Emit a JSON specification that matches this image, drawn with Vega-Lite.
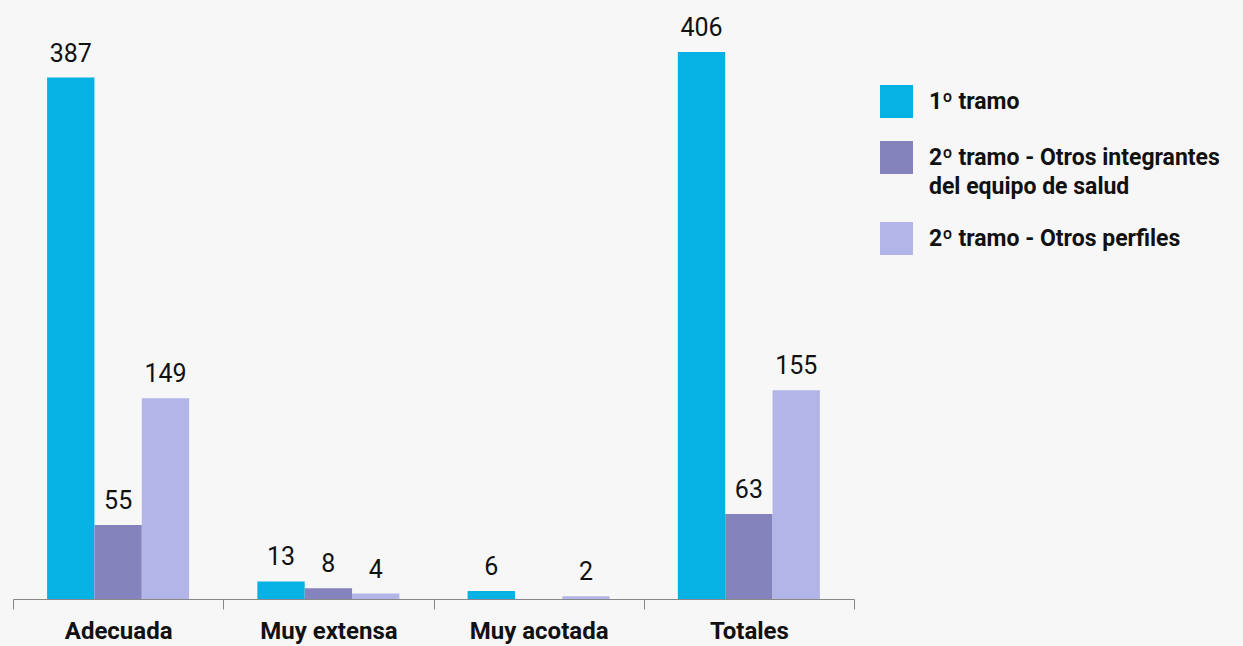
{
  "$schema": "https://vega.github.io/schema/vega-lite/v6.json",
  "autosize": {"type": "none"},
  "width": 841,
  "height": 579,
  "padding": {"left": 13, "top": 20, "right": 389, "bottom": 47},
  "background": "#f7f7f7",
  "config": {"view": {"stroke": null}, "font": "Roboto"},
  "data": {"values": [
    {"cat": "Adecuada", "serie": "1º tramo", "v": 387},
    {"cat": "Adecuada", "serie": "2º tramo - Otros integrantes del equipo de salud", "v": 55},
    {"cat": "Adecuada", "serie": "2º tramo - Otros perfiles", "v": 149},
    {"cat": "Muy extensa", "serie": "1º tramo", "v": 13},
    {"cat": "Muy extensa", "serie": "2º tramo - Otros integrantes del equipo de salud", "v": 8},
    {"cat": "Muy extensa", "serie": "2º tramo - Otros perfiles", "v": 4},
    {"cat": "Muy acotada", "serie": "1º tramo", "v": 6},
    {"cat": "Muy acotada", "serie": "2º tramo - Otros perfiles", "v": 2},
    {"cat": "Totales", "serie": "1º tramo", "v": 406},
    {"cat": "Totales", "serie": "2º tramo - Otros integrantes del equipo de salud", "v": 63},
    {"cat": "Totales", "serie": "2º tramo - Otros perfiles", "v": 155}
  ]},
  "encoding": {
    "x": {"field": "cat", "type": "nominal", "sort": ["Adecuada", "Muy extensa", "Muy acotada", "Totales"],
      "scale": {"paddingInner": 0, "paddingOuter": 0},
      "axis": {"title": null, "labelAngle": 0, "labelFontSize": 24, "labelFontWeight": "bold", "labelColor": "#111111",
        "labelPadding": 10, "tickBand": "extent", "tickSize": 10, "tickColor": "#888888", "domainColor": "#888888", "labelFont": "Roboto"}},
    "xOffset": {"field": "serie", "type": "nominal",
      "sort": ["1º tramo", "2º tramo - Otros integrantes del equipo de salud", "2º tramo - Otros perfiles"],
      "scale": {"paddingInner": 0, "paddingOuter": 0.72}},
    "y": {"field": "v", "type": "quantitative", "scale": {"domain": [0, 429.7], "nice": false}, "axis": null}
  },
  "layer": [
    {"mark": {"type": "bar"},
     "encoding": {"color": {"field": "serie", "type": "nominal",
       "sort": ["1º tramo", "2º tramo - Otros integrantes del equipo de salud", "2º tramo - Otros perfiles"],
       "scale": {"domain": ["1º tramo", "2º tramo - Otros integrantes del equipo de salud", "2º tramo - Otros perfiles"], "range": ["#06b1e3", "#8483bc", "#b3b5e8"]},
       "legend": {"title": null, "orient": "none", "legendX": 867, "legendY": 65, "symbolType": "square", "symbolSize": 1089,
         "symbolStrokeWidth": 0, "labelFontSize": 23, "labelFontWeight": "bold", "labelColor": "#111111", "labelOffset": 16,
         "rowPadding": 23, "labelLimit": 400,
         "labelExpr": "datum.label == '2º tramo - Otros integrantes del equipo de salud' ? ['2º tramo - Otros integrantes', 'del equipo de salud'] : datum.label",
         "encode": {"labels": {"update": {"lineHeight": {"value": 29}}}}}}}},
    {"mark": {"type": "text", "baseline": "alphabetic", "dy": -16, "fontSize": 25, "color": "#111111"},
     "encoding": {"text": {"field": "v", "type": "quantitative"}}}
  ]
}
